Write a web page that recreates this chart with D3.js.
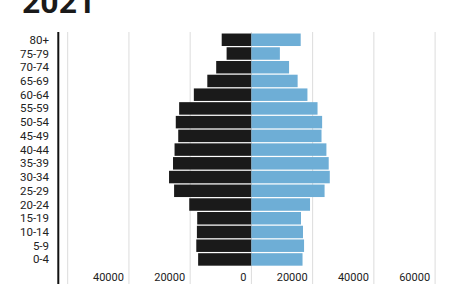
<!DOCTYPE html>
<html><head><meta charset="utf-8">
<script src="https://cdn.jsdelivr.net/npm/d3@7"></script>
<style>body{margin:0;background:#fff;} svg{display:block;font-family:Roboto,"Noto Sans",sans-serif;}</style>
</head><body>
<svg id="c" width="456" height="304"></svg>
<script>
const title = "2021";
const ageGroups = ["80+","75-79","70-74","65-69","60-64","55-59","50-54","45-49","40-44","35-39","30-34","25-29","20-24","15-19","10-14","5-9","0-4"];
const maleValues = [9700,8100,11500,14400,18800,23600,24700,23900,25100,25600,26900,25250,20300,17700,17800,18000,17400];
const femaleValues = [16100,9300,12300,15100,18300,21600,23100,22900,24500,25250,25600,23900,19150,16200,16850,17200,16700];
const gridValues = [-60000,-40000,-20000,0,20000,40000,60000];
const tickLabelValues = [-40000,-20000,0,20000,40000,60000];

const svg = d3.select("#c");
const x = d3.scaleLinear().domain([-60000,60000]).range([67.7,435.1]);
const y = d3.scaleBand().domain(ageGroups).range([32.9,266.3]).paddingInner(0.09).paddingOuter(0.045);

svg.append("text").attr("x",22).attr("y",13).attr("font-size",32).attr("font-weight",700)
  .attr("fill","#1a1a1a").text(title);

svg.append("g").selectAll("line").data(gridValues).join("line")
  .attr("x1",d=>x(d)).attr("x2",d=>x(d)).attr("y1",32).attr("y2",284)
  .attr("stroke","#dcdcdc").attr("stroke-width",1);

svg.append("g").selectAll("rect").data(ageGroups).join("rect")
  .attr("x",(d,i)=>x(-maleValues[i])).attr("width",(d,i)=>x(0)-x(-maleValues[i]))
  .attr("y",d=>y(d)).attr("height",y.bandwidth()).attr("fill","#1a1a1a");

svg.append("g").selectAll("rect").data(ageGroups).join("rect")
  .attr("x",x(0)).attr("width",(d,i)=>x(femaleValues[i])-x(0))
  .attr("y",d=>y(d)).attr("height",y.bandwidth()).attr("fill","#6eaed6");

svg.append("g").selectAll("text").data(ageGroups).join("text")
  .attr("x",49).attr("y",d=>y(d)+y.bandwidth()/2).attr("dy","0.35em")
  .attr("text-anchor","end").attr("font-size",11.5).attr("fill","#222").text(d=>d);

svg.append("g").selectAll("text").data(tickLabelValues).join("text")
  .attr("x",d=>x(d)-5).attr("y",277).attr("dy","0.35em")
  .attr("text-anchor","end").attr("font-size",11).attr("fill","#222").text(d=>Math.abs(d));

svg.append("line").attr("x1",58.3).attr("x2",58.3).attr("y1",32).attr("y2",284)
  .attr("stroke","#111").attr("stroke-width",2);
</script>
</body></html>
